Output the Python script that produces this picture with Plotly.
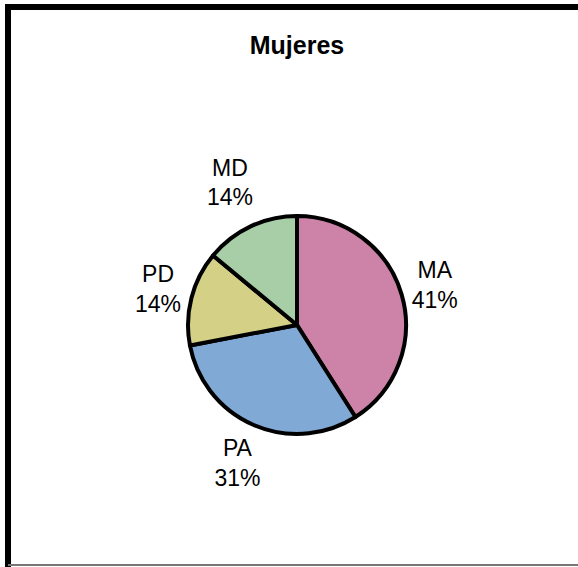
import plotly.graph_objects as go

categories = ["MA", "PA", "PD", "MD"]
values = [41, 31, 14, 14]
colors = ["#CD82A8", "#80A9D6", "#D4D186", "#A8CEA8"]
title_text = "Mujeres"

W, H = 578, 567
cx, cy, r = 297, 325, 109
FONT = "Liberation Sans, Arial, sans-serif"

labels_text = [f"{c}<br>{v}%" for c, v in zip(categories, values)]


def dom(rad):
    return dict(x=[(cx - rad) / W, (cx + rad) / W], y=[(H - cy - rad) / H, (H - cy + rad) / H])


fig = go.Figure()
fig.add_trace(go.Pie(
    labels=categories, values=values, sort=False, direction="clockwise", rotation=0,
    marker=dict(colors=colors, line=dict(color="black", width=4)),
    textinfo="none", domain=dom(r), showlegend=False, hoverinfo="label+percent",
))

# transparent rings that carry the slice labels at Excel-like distances
for show, mid in [({"MA", "PD"}, 143.5), ({"PA"}, 150.0), ({"MD"}, 157.5)]:
    R = mid + 41
    hole = (mid - 41) / R
    fig.add_trace(go.Pie(
        labels=categories, values=values, sort=False, direction="clockwise", rotation=0,
        hole=hole,
        marker=dict(colors=["rgba(0,0,0,0)"] * len(categories), line=dict(width=0)),
        text=[t if c in show else "" for c, t in zip(categories, labels_text)],
        textinfo="text", textposition="inside", insidetextorientation="horizontal",
        textfont=dict(family=FONT, size=23, color="black"),
        domain=dom(R), showlegend=False, hoverinfo="skip",
    ))

fig.update_layout(
    width=W, height=H,
    margin=dict(l=0, r=0, t=0, b=0),
    paper_bgcolor="white",
    plot_bgcolor="white",
    title=dict(text="<b>" + title_text + "</b>", x=cx / W, xanchor="center",
               y=1 - 45 / H, yanchor="middle",
               font=dict(family=FONT, size=25, color="black")),
    shapes=[
        dict(type="line", xref="paper", yref="paper", x0=8 / W, x1=8 / W, y0=0, y1=1 - 4 / H,
             line=dict(color="black", width=6)),
        dict(type="line", xref="paper", yref="paper", x0=5 / W, x1=1, y0=1 - 7 / H, y1=1 - 7 / H,
             line=dict(color="black", width=6)),
        dict(type="line", xref="paper", yref="paper", x0=8 / W, x1=1, y0=1 - 565 / H, y1=1 - 565 / H,
             line=dict(color="#777777", width=2)),
    ],
)

fig.write_html("out.html", config={"displayModeBar": False},
               post_script="document.body.style.margin='0px';document.body.style.overflow='hidden';")
